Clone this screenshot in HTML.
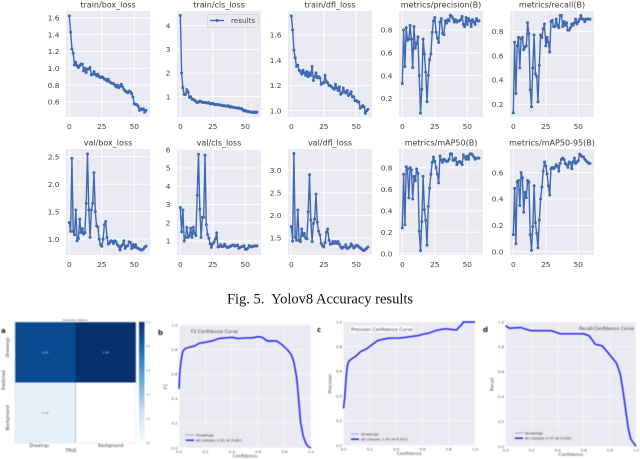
<!DOCTYPE html>
<html lang="en">
<head>
<meta charset="utf-8">
<title>Yolov8 Accuracy results</title>
<style>
html,body{margin:0;padding:0;background:#fff;width:640px;height:459px;overflow:hidden}
svg{display:block;position:absolute;left:0;top:0}
text{font-family:"DejaVu Sans","Liberation Sans",sans-serif}
.cap{font-family:"Liberation Serif",serif;font-size:14.5px;fill:#111}
</style>
</head>
<body>
<svg id="fig" xmlns="http://www.w3.org/2000/svg" width="640" height="459" viewBox="0 0 640 459">
<defs>
<linearGradient id="blues" x1="0" y1="1" x2="0" y2="0">
<stop offset="0" stop-color="#f7fbff"/><stop offset="0.25" stop-color="#d0e1f2"/><stop offset="0.5" stop-color="#6aaed6"/><stop offset="0.75" stop-color="#2171b5"/><stop offset="1" stop-color="#08306b"/>
</linearGradient>
<filter id="soft" x="-5%" y="-5%" width="110%" height="110%" color-interpolation-filters="sRGB"><feGaussianBlur stdDeviation="0.3"/></filter>
<filter id="softer" x="-5%" y="-5%" width="110%" height="110%" color-interpolation-filters="sRGB"><feGaussianBlur stdDeviation="0.4"/></filter>
</defs>
<g id="top" filter="url(#soft)"></g>
<text class="cap" x="320" y="303.5" text-anchor="middle" xml:space="preserve">Fig. 5.  Yolov8 Accuracy results</text>
<g id="bottom" filter="url(#softer)"></g>
</svg>
<script>
const epochTicks = [0, 25, 50];
const trainBoxLoss = [1.62,1.43,1.23,1.18,1.04,1.07,1.03,1.01,1.03,1.05,1.05,0.97,1.0,0.95,0.99,0.99,1.01,0.92,0.93,0.96,0.93,0.91,0.93,0.90,0.89,0.90,0.89,0.87,0.87,0.85,0.87,0.84,0.83,0.82,0.82,0.80,0.78,0.80,0.77,0.79,0.81,0.78,0.75,0.73,0.72,0.71,0.73,0.72,0.70,0.66,0.58,0.57,0.57,0.55,0.50,0.52,0.51,0.52,0.48,0.50];
const trainClsLoss = [4.43,2.0,1.38,1.1,1.1,1.3,1.2,0.97,1.0,0.9,0.88,0.85,0.8,0.75,0.77,0.82,0.8,0.76,0.76,0.75,0.75,0.73,0.75,0.7,0.7,0.72,0.68,0.67,0.67,0.66,0.66,0.65,0.63,0.62,0.62,0.61,0.6,0.62,0.56,0.58,0.56,0.55,0.54,0.53,0.52,0.53,0.5,0.5,0.45,0.4,0.42,0.38,0.38,0.37,0.35,0.35,0.33,0.36,0.33,0.35];
const trainDflLoss = [1.75,1.64,1.48,1.42,1.35,1.36,1.32,1.31,1.29,1.32,1.3,1.28,1.31,1.27,1.3,1.28,1.35,1.24,1.27,1.3,1.26,1.27,1.26,1.21,1.22,1.22,1.28,1.23,1.22,1.2,1.2,1.19,1.18,1.17,1.21,1.18,1.16,1.19,1.13,1.14,1.18,1.15,1.14,1.16,1.12,1.13,1.15,1.11,1.11,1.08,1.08,1.07,1.07,1.02,1.03,1.04,1.03,0.98,1.0,1.01];
const precisionB = [0.33,0.8,0.48,0.82,0.71,0.72,0.84,0.72,0.47,0.83,0.64,0.68,0.74,0.4,0.07,0.28,0.72,0.59,0.43,0.17,0.4,0.54,0.59,0.78,0.88,0.91,0.78,0.73,0.69,0.87,0.9,0.77,0.76,0.88,0.86,0.89,0.88,0.93,0.92,0.9,0.87,0.89,0.87,0.88,0.88,0.89,0.92,0.85,0.83,0.91,0.85,0.9,0.88,0.83,0.89,0.87,0.85,0.9,0.88,0.88];
const recallB = [0.13,0.71,0.29,0.68,0.75,0.5,0.74,0.75,0.65,0.67,0.68,0.87,0.78,0.32,0.18,0.5,0.77,0.45,0.43,0.22,0.52,0.77,0.75,0.82,0.86,0.68,0.75,0.71,0.63,0.88,0.89,0.84,0.84,0.9,0.85,0.83,0.93,0.93,0.84,0.88,0.85,0.87,0.81,0.81,0.83,0.86,0.85,0.87,0.9,0.86,0.88,0.9,0.93,0.9,0.9,0.88,0.9,0.9,0.9,0.9];
const valBoxLoss = [1.3,1.14,2.47,1.14,1.08,1.53,0.97,1.01,1.36,1.12,1.19,1.09,1.12,1.65,2.55,1.53,1.03,1.53,1.65,2.21,1.5,1.24,1.22,1.0,0.9,0.87,1.0,1.26,1.32,1.03,0.91,0.93,0.97,0.96,0.92,0.97,0.95,0.9,0.87,0.8,0.87,0.9,0.97,0.83,0.87,0.88,0.95,0.94,0.83,0.9,0.85,0.9,0.84,0.83,0.82,0.8,0.8,0.82,0.85,0.87];
const valClsLoss = [2.83,1.5,2.7,1.0,1.2,1.75,1.2,1.3,1.7,1.2,1.75,1.4,1.3,3.5,5.75,2.75,1.2,2.3,2.3,5.7,1.9,1.35,1.15,0.85,0.65,0.85,0.95,1.1,1.45,0.67,0.7,0.8,0.7,0.7,0.82,0.72,0.65,0.65,0.7,0.72,0.77,0.78,0.72,0.75,0.78,0.6,0.65,0.68,0.7,0.75,0.55,0.55,0.6,0.75,0.7,0.68,0.72,0.72,0.73,0.73];
const valDflLoss = [1.75,1.43,3.37,1.52,1.45,2.12,1.45,1.42,1.7,1.55,1.6,1.5,1.48,2.08,2.9,1.9,1.42,1.82,1.92,2.47,1.85,1.65,1.57,1.38,1.33,1.3,1.4,1.63,1.7,1.45,1.36,1.37,1.42,1.38,1.42,1.38,1.42,1.36,1.3,1.27,1.3,1.3,1.35,1.27,1.28,1.3,1.37,1.33,1.28,1.3,1.34,1.33,1.3,1.28,1.26,1.23,1.22,1.25,1.27,1.3];
const mAP50B = [0.24,0.74,0.27,0.81,0.79,0.52,0.8,0.78,0.51,0.72,0.68,0.79,0.75,0.21,0.03,0.3,0.72,0.41,0.31,0.08,0.44,0.61,0.74,0.85,0.9,0.86,0.8,0.74,0.66,0.91,0.87,0.85,0.88,0.87,0.86,0.86,0.88,0.93,0.93,0.87,0.87,0.89,0.83,0.85,0.86,0.85,0.83,0.92,0.9,0.88,0.91,0.88,0.93,0.93,0.92,0.9,0.88,0.89,0.89,0.89];
const mAP5095B = [0.13,0.48,0.06,0.53,0.54,0.35,0.6,0.56,0.3,0.45,0.41,0.54,0.53,0.13,0.01,0.19,0.5,0.22,0.14,0.03,0.24,0.4,0.49,0.61,0.68,0.65,0.59,0.5,0.43,0.63,0.64,0.63,0.64,0.66,0.65,0.61,0.67,0.7,0.71,0.7,0.67,0.66,0.64,0.68,0.67,0.63,0.68,0.71,0.67,0.68,0.69,0.74,0.73,0.72,0.72,0.7,0.69,0.68,0.67,0.67];
const ticksTrainBox = ["0.6","0.8","1.0","1.2","1.4","1.6"];
const ticksTrainCls = ["1","2","3","4"];
const ticksTrainDfl = ["1.0","1.2","1.4","1.6"];
const ticksPrecision = ["0.2","0.4","0.6","0.8"];
const ticksRecall = ["0.2","0.4","0.6","0.8"];
const ticksValBox = ["1.0","1.5","2.0","2.5"];
const ticksValCls = ["1","2","3","4","5","6"];
const ticksValDfl = ["1.5","2.0","2.5","3.0"];
const ticksMap50 = ["0.0","0.2","0.4","0.6","0.8"];
const ticksMap5095 = ["0.0","0.2","0.4","0.6"];

const unitTicks = ["0.0","0.2","0.4","0.6","0.8","1.0"];
const f1Conf = [0,0.005,0.01,0.02,0.03,0.05,0.08,0.12,0.15,0.2,0.25,0.3,0.35,0.4,0.45,0.5,0.55,0.6,0.63,0.67,0.7,0.74,0.78,0.82,0.85,0.87,0.89,0.9,0.91,0.92,0.94,0.96,0.98,1];
const f1Values = [0.48,0.6,0.66,0.74,0.79,0.81,0.82,0.83,0.85,0.86,0.87,0.89,0.895,0.9,0.89,0.895,0.895,0.905,0.9,0.87,0.87,0.87,0.84,0.8,0.76,0.7,0.58,0.48,0.35,0.22,0.1,0.04,0.01,0];
const precConf = [0,0.01,0.02,0.03,0.04,0.06,0.09,0.13,0.17,0.21,0.26,0.3,0.35,0.43,0.5,0.57,0.6,0.65,0.7,0.74,0.78,0.82,0.86,0.88,0.9,0.91,1];
const precValues = [0.3,0.4,0.55,0.65,0.68,0.7,0.72,0.76,0.78,0.81,0.85,0.86,0.87,0.87,0.88,0.89,0.9,0.91,0.93,0.94,0.945,0.94,0.935,0.96,0.98,1,1];
const recConf = [0,0.03,0.12,0.16,0.2,0.35,0.42,0.6,0.64,0.69,0.74,0.78,0.85,0.88,0.9,0.92,0.94,0.96,1];
const recValues = [0.97,0.95,0.955,0.94,0.93,0.93,0.905,0.905,0.89,0.82,0.81,0.76,0.67,0.58,0.45,0.3,0.15,0.06,0];
const confusionValues = [[0.92,1.0],[0.08,0.0]];
const colorbarTicks = ["0.0","0.2","0.4","0.6","0.8","1.0"];

const NS = 'http://www.w3.org/2000/svg';
function mk(parent, tag, attrs, txt) {
  const el = document.createElementNS(NS, tag);
  for (const k in attrs) el.setAttribute(k, attrs[k]);
  if (txt !== undefined) el.textContent = txt;
  parent.appendChild(el);
  return el;
}
function scale(d0, d1, r0, r1) { return v => r0 + (v - d0) / (d1 - d0) * (r1 - r0); }

const topG = document.getElementById('top');
const bottomG = document.getElementById('bottom');
const lineBlue = '#3f69b0';

function metricPanel(slug, title, series, ticks, x, y, w, h, yLo, yHi, legend) {
  const g = mk(topG, 'g', {});
  
  
  const sx = scale(-2.55, 62.1, x, x + w);
  const sy = scale(yLo, yHi, y + h, y);
  mk(g, 'rect', {x: x, y: y, width: w, height: h, fill: '#eaeaf2'});
  epochTicks.forEach(t => {
    mk(g, 'line', {x1: sx(t), x2: sx(t), y1: y, y2: y + h, stroke: '#fff', 'stroke-width': 0.9});
    const lab = mk(g, 'text', {x: sx(t), y: y + h + 12, 'text-anchor': 'middle', 'font-size': 7.4, fill: '#444'}, String(t));
    
    
  });
  ticks.forEach(t => {
    const v = parseFloat(t);
    mk(g, 'line', {x1: x, x2: x + w, y1: sy(v), y2: sy(v), stroke: '#fff', 'stroke-width': 0.9});
    const lab = mk(g, 'text', {x: x - 6.5, y: sy(v) + 2.7, 'text-anchor': 'end', 'font-size': 7.4, fill: '#444'}, t);
    
    
  });
  const tt = mk(g, 'text', {x: x + w / 2, y: y - 3.4, 'text-anchor': 'middle', 'font-size': 8, fill: '#3a3a3a'}, title);
  
  
  const line = mk(g, 'polyline', {points: series.map((v, i) => sx(i) + ',' + sy(v)).join(' '), fill: 'none', stroke: lineBlue, 'stroke-width': 1.4, 'stroke-linejoin': 'round'});
  
  
  series.forEach((v, i) => {
    const p = mk(g, 'circle', {cx: sx(i), cy: sy(v), r: 1.5, fill: lineBlue});
    
    
  });
  if (legend) {
    const lg = mk(g, 'g', {});
    
    
    mk(lg, 'rect', {x: x + 30.5, y: y + 3.5, width: 51, height: 13, rx: 1.5, fill: '#eaeaf2', stroke: '#d4d4dc', 'stroke-width': 0.7});
    mk(lg, 'line', {x1: x + 33, x2: x + 47, y1: y + 9.5, y2: y + 9.5, stroke: lineBlue, 'stroke-width': 1.4});
    mk(lg, 'circle', {cx: x + 40, cy: y + 9.5, r: 1.5, fill: lineBlue});
    mk(lg, 'text', {x: x + 54, y: y + 12, 'font-size': 7.2, fill: '#444'}, 'results');
  }
}

metricPanel('train-box-loss', 'train/box_loss', trainBoxLoss, ticksTrainBox, 66, 11, 84, 106, 0.422, 1.68, false);
metricPanel('train-cls-loss', 'train/cls_loss', trainClsLoss, ticksTrainCls, 177, 11, 84, 106, 0.143, 4.62, true);
metricPanel('train-dfl-loss', 'train/dfl_loss', trainDflLoss, ticksTrainDfl, 288, 11, 84, 106, 0.95, 1.79, false);
metricPanel('metrics-precision', 'metrics/precision(B)', precisionB, ticksPrecision, 399, 11, 84, 106, 0.036, 0.967, false);
metricPanel('metrics-recall', 'metrics/recall(B)', recallB, ticksRecall, 510, 11, 84, 106, 0.096, 0.967, false);
metricPanel('val-box-loss', 'val/box_loss', valBoxLoss, ticksValBox, 66, 149, 84, 106, 0.71, 2.64, false);
metricPanel('val-cls-loss', 'val/cls_loss', valClsLoss, ticksValCls, 177, 149, 84, 106, 0.233, 6.04, false);
metricPanel('val-dfl-loss', 'val/dfl_loss', valDflLoss, ticksValDfl, 288, 149, 84, 106, 1.123, 3.47, false);
metricPanel('metrics-map50', 'metrics/mAP50(B)', mAP50B, ticksMap50, 399, 149, 84, 106, -0.012, 0.975, false);
metricPanel('metrics-map50-95', 'metrics/mAP50-95(B)', mAP5095B, ticksMap5095, 510, 149, 84, 106, -0.025, 0.779, false);

function curvePanel(slug, letter, lx, ly, title, tx, ty, tAnchor, titleBg, yLabel, confs, vals, legendText, x, y, w, h, legX, legY) {
  const g = mk(bottomG, 'g', {});
  
  
  const sx = scale(0, 1, x, x + w);
  const sy = scale(0, 1, y + h, y);
  mk(g, 'rect', {x: x, y: y, width: w, height: h, fill: '#eaeaf2'});
  unitTicks.forEach(t => {
    const v = parseFloat(t);
    mk(g, 'line', {x1: sx(v), x2: sx(v), y1: y, y2: y + h, stroke: '#fff', 'stroke-width': 0.5});
    mk(g, 'line', {x1: x, x2: x + w, y1: sy(v), y2: sy(v), stroke: '#fff', 'stroke-width': 0.5});
    const a = mk(g, 'text', {x: sx(v), y: y + h + 5, 'text-anchor': 'middle', 'font-size': 3.8, fill: '#444'}, t);
    
    
    const b = mk(g, 'text', {x: x - 1.5, y: sy(v) + 1.3, 'text-anchor': 'end', 'font-size': 3.8, fill: '#444'}, t);
    
    
  });
  if (titleBg) mk(g, 'rect', {x: tx - 1, y: ty - 5, width: 63, height: 6.5, fill: '#fff'});
  const tl = mk(g, 'text', {x: tx, y: ty, 'text-anchor': tAnchor, 'font-size': 4.5, fill: '#333'}, title);
  
  
  const xl = mk(g, 'text', {x: x + w / 2, y: y + h + 9.5, 'text-anchor': 'middle', 'font-size': 4.4, fill: '#444'}, 'Confidence');
  
  
  const ylx = x - 12, yly = y + h / 2;
  const yl = mk(g, 'text', {x: ylx, y: yly, 'text-anchor': 'middle', 'font-size': 4.4, fill: '#444', transform: 'rotate(-90 ' + ylx + ' ' + yly + ')'}, yLabel);
  
  
  const line = mk(g, 'polyline', {points: confs.map((c, i) => sx(c) + ',' + sy(vals[i])).join(' '), fill: 'none', stroke: '#1414f0', 'stroke-width': 1.4, 'stroke-linejoin': 'round'});
  
  
  const lg = mk(g, 'g', {});
  
  
  mk(lg, 'rect', {x: legX - 1, y: legY - 1, width: 59, height: 11, fill: '#eaeaf2', stroke: '#dcdce4', 'stroke-width': 0.3});
  mk(lg, 'line', {x1: legX, x2: legX + 8, y1: legY + 2, y2: legY + 2, stroke: '#8fa6d4', 'stroke-width': 0.9});
  mk(lg, 'text', {x: legX + 10, y: legY + 3.3, 'font-size': 3.8, fill: '#333'}, 'Drawings');
  mk(lg, 'line', {x1: legX, x2: legX + 8, y1: legY + 7.2, y2: legY + 7.2, stroke: '#1414f0', 'stroke-width': 1.4});
  mk(lg, 'text', {x: legX + 10, y: legY + 8.5, 'font-size': 3.8, fill: '#333'}, legendText);
  const pl = mk(g, 'text', {x: lx, y: ly, 'font-size': 7, 'font-weight': 'bold', fill: '#111'}, letter);
  
  
}

curvePanel('f1-confidence', 'b', 158, 335, 'F1 Confidence Curve', 191, 333, 'start', false, 'F1', f1Conf, f1Values, 'all classes 0.91 at 0.601', 179, 325, 132, 123, 186, 433);
curvePanel('precision-confidence', 'c', 317, 332, 'Precision Confidence Curve', 351, 331, 'start', true, 'Precision', precConf, precValues, 'all classes 1.00 at 0.910', 343.5, 322, 131.5, 123.5, 351, 432);
curvePanel('recall-confidence', 'd', 483, 332, 'Recall-Confidence Curve', 634, 330, 'end', false, 'Recall', recConf, recValues, 'all classes 0.97 at 0.000', 505.5, 322, 130.5, 124.5, 515, 431);

/* confusion matrix */
const cm = mk(bottomG, 'g', {});


const cmColors = v => v > 0.95 ? '#08306b' : v > 0.5 ? '#0a4a90' : v > 0.02 ? '#e6f0f9' : '#ffffff';
const cmLabels = ['Drawings', 'Background'];
const cellW = 60.5, cellH = 60.5, cmX = 15, cmY = 322;
confusionValues.forEach((row, r) => row.forEach((v, c) => {
  const cell = mk(cm, 'rect', {x: cmX + c * cellW, y: cmY + r * cellH, width: cellW, height: cellH, fill: cmColors(v)});
  
  
  if (v > 0) {
    const val = mk(cm, 'text', {x: cmX + c * cellW + cellW / 2, y: cmY + r * cellH + cellH / 2 + 1, 'text-anchor': 'middle', 'font-size': 3, fill: v > 0.5 ? '#cfe0f2' : '#667'}, v.toFixed(2));
    
    
  }
}));
mk(cm, 'line', {x1: cmX + cellW, x2: cmX + cellW, y1: cmY + cellH, y2: cmY + 2 * cellH, stroke: '#aaa', 'stroke-width': 0.8});
mk(cm, 'rect', {x: cmX, y: cmY, width: 2 * cellW, height: 2 * cellH, fill: 'none', stroke: '#d8e4f0', 'stroke-width': 0.5});
mk(cm, 'text', {x: 75, y: 321, 'text-anchor': 'middle', 'font-size': 3, fill: '#444'}, 'Confusion Matrix');
mk(cm, 'text', {x: 1, y: 333, 'font-size': 7, 'font-weight': 'bold', fill: '#111'}, 'a');
cmLabels.forEach((l, i) => {
  const cx = cmX + cellW * (i + 0.5) + (i === 0 ? -6 : 5);
  mk(cm, 'text', {x: cx, y: 447, 'text-anchor': 'middle', 'font-size': 4.2, fill: '#333'}, l);
  const cy = cmY + cellH * (i + 0.5) + (i === 0 ? -5 : 5);
  mk(cm, 'text', {x: 9, y: cy, 'text-anchor': 'middle', 'font-size': 4.2, fill: '#333', transform: 'rotate(-90 9 ' + cy + ')'}, l);
});
mk(cm, 'text', {x: 71, y: 452, 'text-anchor': 'middle', 'font-size': 4.2, fill: '#333'}, 'TRUE');
mk(cm, 'text', {x: 5, y: 380, 'text-anchor': 'middle', 'font-size': 4.2, fill: '#333', transform: 'rotate(-90 5 380)'}, 'Predicted');
const cb = mk(cm, 'rect', {x: 139, y: 322, width: 5.5, height: 121, fill: 'url(#blues)'});


colorbarTicks.forEach(t => {
  const yy = 443 - parseFloat(t) * 121;
  const lab = mk(cm, 'text', {x: 146, y: yy + 1, 'font-size': 2.6, fill: '#555'}, t);
  
  
});
</script>
</body>
</html>
